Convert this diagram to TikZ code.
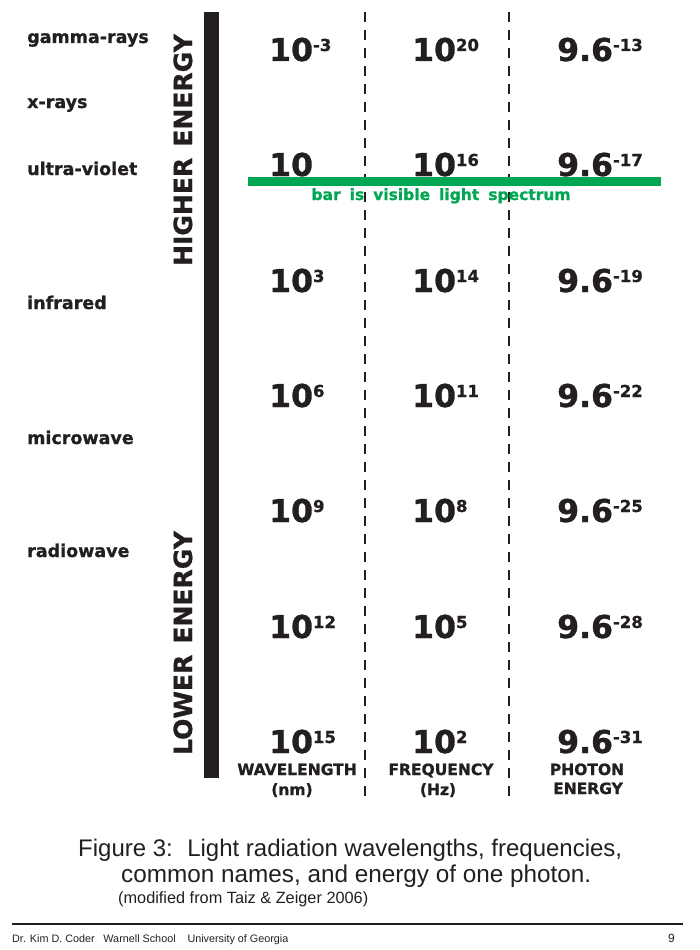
\documentclass[tikz,border=0pt]{standalone}
\usepackage{fontspec}
\setmainfont{Liberation Sans}
\newfontfamily\heavy[BoldFeatures={FakeBold=1}]{DejaVu Sans}
\definecolor{ink}{HTML}{231F20}
\definecolor{vgreen}{HTML}{00A651}
\newcommand\numpw[2]{{\fontsize{31.5}{31.5}\selectfont #1}\raisebox{10pt}{\fontsize{16.5}{16.5}\selectfont #2}}
\begin{document}
\begin{tikzpicture}[x=1pt,y=-1pt,
  num/.style={anchor=base west, inner sep=0pt, text=ink, font=\heavy\bfseries},
  lbl/.style={anchor=base west, inner sep=0pt, text=ink, font=\heavy\bfseries\fontsize{17.5}{20}\selectfont},
  hdr/.style={anchor=base, inner sep=0pt, text=ink, font=\heavy\bfseries\fontsize{15.5}{18}\selectfont},
  side/.style={anchor=base, inner sep=0pt, rotate=90, text=ink, font=\heavy\bfseries\fontsize{25}{25}\selectfont},
  sep/.style={line width=1.3pt, dash pattern=on 10pt off 8pt, draw=ink},
  captxt/.style={anchor=base west, inner sep=0pt, text=ink}]
\useasboundingbox (0,0) rectangle (700,950);
% left labels
\node[lbl] (gamma) at (27,43) {gamma-rays};
\node[lbl] (xray) at (27,108) {x-rays};
\node[lbl] (uv) at (27,175) {ultra-violet};
\node[lbl] (ir) at (27,309) {infrared};
\node[lbl] (mw) at (27,444) {microwave};
\node[lbl] (rw) at (27,557) {radiowave};
% side labels
\node[side] (hi) at (192,150) {HIGHER\hspace{0.45em}ENERGY};
\node[side] (lo) at (192,643) {LOWER\hspace{0.45em}ENERGY};
% black bar
\fill[ink] (204,12) rectangle (219,778);
% dashed separators
\coordinate (d1t) at (365,12); \coordinate (d1b) at (365,802);
\coordinate (d2t) at (509,12); \coordinate (d2b) at (509,802);
\draw[sep] (d1t) -- (d1b);
\draw[sep] (d2t) -- (d2b);
% numbers
\foreach \y/\a/\b/\c/\d/\e/\f [count=\i] in {
  61/10/-3/10/20/9.6/-13,
  176/10//10/16/9.6/-17,
  292/10/3/10/14/9.6/-19,
  407/10/6/10/11/9.6/-22,
  522/10/9/10/8/9.6/-25,
  638/10/12/10/5/9.6/-28,
  753/10/15/10/2/9.6/-31}{
  \node[num] (w\i) at (269,\y) {\numpw{\a}{\b}};
  \node[num] (f\i) at (412,\y) {\numpw{\c}{\d}};
  \node[num] (e\i) at (557,\y) {\numpw{\e}{\f}};
}
% visible bar
\fill[vgreen] (248,177) rectangle (661,186);
\node[anchor=base, inner sep=0pt, text=vgreen, font=\heavy\bfseries\fontsize{15.5}{18}\selectfont] (vis) at (441,200)
  {bar\hspace{9pt}is\hspace{9pt}visible\hspace{9pt}light\hspace{9pt}spectrum};
% headers
\node[hdr] (h1) at (297,775) {WAVELENGTH};
\node[hdr] (h1u) at (292,795) {(nm)};
\node[hdr] (h2) at (441,775) {FREQUENCY};
\node[hdr] (h2u) at (438,795) {(Hz)};
\node[hdr] (h3) at (587,775) {PHOTON};
\node[hdr] (h3u) at (588,794) {ENERGY};
% caption
\node[captxt, font=\fontsize{24}{26}\selectfont] (c1) at (78,856) {Figure 3:\hspace{0.6em}Light radiation wavelengths, frequencies,};
\node[captxt, font=\fontsize{24.3}{26}\selectfont] (c2) at (121,882) {common names, and energy of one photon.};
\node[captxt, font=\fontsize{16.3}{18}\selectfont] (c3) at (118,903) {(modified from Taiz \& Zeiger 2006)};
% footer
\draw[line width=1.5pt, ink] (12,924) -- (683,924);
\node[captxt, font=\fontsize{10.8}{13}\selectfont] (ft) at (12,942) {Dr. Kim D. Coder\hspace{0.8em}Warnell School\hspace{1.1em}University of Georgia};
\node[captxt, font=\fontsize{12}{14}\selectfont] (pg) at (668,942) {9};
\end{tikzpicture}
\end{document}
